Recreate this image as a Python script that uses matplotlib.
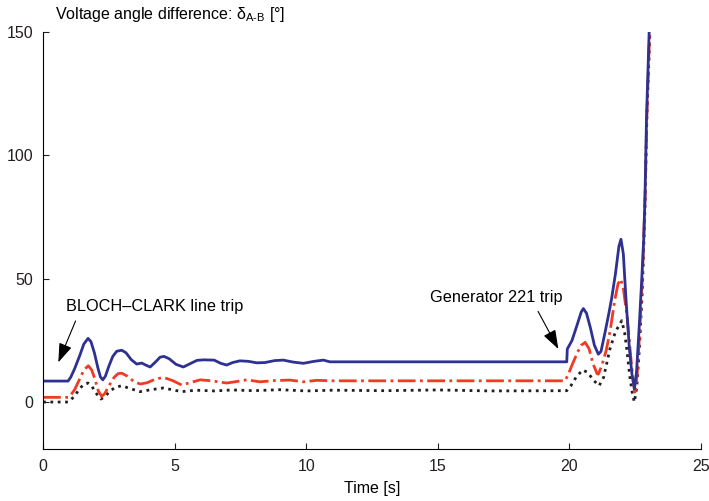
import matplotlib.pyplot as plt
import numpy as np

plt.rcParams['font.family'] = ['Liberation Sans', 'DejaVu Sans']
plt.rcParams['mathtext.fontset'] = 'custom'
plt.rcParams['mathtext.rm'] = 'Liberation Sans'
plt.rcParams['mathtext.it'] = 'Liberation Sans:italic'

# blue, solid line
t_blue = [0, 0.95, 1.05, 1.2, 1.4, 1.55, 1.71, 1.82, 1.95, 2.08, 2.18, 2.27,
          2.37, 2.5, 2.65, 2.8, 2.99, 3.15, 3.35, 3.56, 3.75, 3.9, 4.07, 4.25,
          4.45, 4.6, 4.8, 5.05, 5.33, 5.6, 5.85, 6.1, 6.5, 6.75, 6.98, 7.2,
          7.48, 7.8, 8.12, 8.43, 8.8, 9.13, 9.5, 9.89, 10.3, 10.65, 10.9,
          19.9, 19.92, 20.1, 20.3, 20.45, 20.53, 20.65, 20.8, 20.95, 21.1,
          21.2, 21.35, 21.5, 21.6, 21.75, 21.88, 21.96, 22.05, 22.15, 22.28,
          22.38, 22.47, 22.55, 22.65, 22.75, 22.82, 22.87, 22.93, 23.03]
y_blue = [8.5, 8.5, 10, 13.5, 19, 23.5, 25.8, 24.5, 20, 14, 10.2, 9.0, 10.5,
          14.5, 18.5, 20.6, 21, 20, 17.2, 15.4, 15.8, 15, 14.2, 16, 18.2, 18.5,
          17.5, 15.3, 14.2, 15.6, 16.9, 17.1, 17, 15.7, 15.0, 16, 16.7, 16.5,
          15.9, 16, 16.8, 17, 16.2, 15.7, 16.5, 17, 16.3,
          16.3, 21.5, 25, 31.5, 36.5, 37.9, 36, 30, 23, 19.4,
          20.5, 28, 36, 41.7, 52, 63, 66, 60, 41.7, 21.5,
          11, 5.3, 12, 30, 50, 65, 82, 115, 150]

# red, dash-dot line
t_red = [0, 0.95, 1.05, 1.2, 1.4, 1.55, 1.72, 1.85, 1.98, 2.1, 2.23, 2.35,
         2.5, 2.7, 2.85, 2.99, 3.2, 3.45, 3.69, 3.95, 4.25, 4.57, 4.9, 5.27,
         5.6, 5.97, 6.4, 6.98, 7.35, 7.74, 8.24, 8.8, 9.38, 9.9, 10.4, 11.0,
         19.83, 19.95, 20.1, 20.3, 20.45, 20.6, 20.75, 20.9, 21.05, 21.1,
         21.23, 21.4, 21.55, 21.73, 21.85, 21.95, 22.05, 22.2, 22.36, 22.49,
         22.58, 22.68, 22.78, 22.88, 22.95, 23.05]
y_red = [1.9, 1.9, 2.8, 5, 9.5, 13, 14.7, 13, 9, 4.5, 2.3, 3.5, 6.5, 10,
         11.5, 11.7, 10.5, 8.3, 7.3, 7.8, 9.2, 10, 8.8, 6.9, 7.9, 9, 8.6, 7.7,
         8.3, 9, 8.2, 8.7, 8.9, 8.2, 8.8, 8.6,
         8.6, 11, 15, 20, 23, 24.2, 21.5, 15.5, 11.5, 11.3,
         14.7, 21, 29, 41.7, 48, 49.8, 46, 34, 15, 3.2,
         12, 30, 52, 85, 118, 150]

# black, dotted line
t_black = [0, 0.95, 1.05, 1.2, 1.4, 1.55, 1.71, 1.85, 2.0, 2.2, 2.35, 2.55,
           2.75, 2.99, 3.3, 3.69, 4.1, 4.57, 4.9, 5.27, 5.8, 6.5, 7.2, 8.0,
           9.0, 10.0, 11.0, 13.0, 15.0, 17.0, 19.9, 20.05, 20.25, 20.5, 20.7,
           20.9, 21.13, 21.3, 21.54, 21.75, 21.99, 22.1, 22.18, 22.3, 22.4,
           22.47, 22.56, 22.66, 22.77, 22.87, 22.94, 23.06]
y_black = [0, 0, 0.8, 2.5, 5.5, 7.2, 7.7, 6.5, 3.8, 1.2, 2.2, 4.5, 6, 6.6,
           5.5, 4.2, 5, 5.7, 5, 4.2, 4.8, 4.5, 4.9, 4.6, 5, 4.5, 4.8, 4.6,
           4.9, 4.5, 4.6, 6.5, 10, 13, 12, 9, 6.6, 10, 21.5, 28.5, 33, 28,
           21.5, 10, 3, 0, 6, 22, 45, 78, 115, 150]

fig = plt.figure(figsize=(7.09, 5.01), dpi=100)
ax = fig.add_axes([0.0607, 0.104, 0.928, 0.832])

ax.plot(t_black, y_black, color='#231f20', linestyle=':', linewidth=2.0)
ax.plot(t_red, y_red, color='#ef3b24', linestyle='-.', linewidth=2.0)
ax.plot(t_blue, y_blue, color='#2e3192', linestyle='-', linewidth=2.0)

ax.set_xlim(0, 25)
ax.set_ylim(-19, 150)
ax.set_xticks([0, 5, 10, 15, 20, 25])
ax.set_yticks([0, 50, 100, 150])
ax.spines['right'].set_color('none')
ax.spines['top'].set_color('none')
ax.spines['left'].set_linewidth(0.8)
ax.spines['bottom'].set_linewidth(0.8)
ax.tick_params(direction='in', length=4, width=0.8, labelsize=11.5,
               colors='#231f20', pad=7)
ax.set_xlabel('Time [s]', fontsize=11.5, labelpad=5)

# upright delta like the original, subscript via mathtext
fig.text(0.0776, 0.972, r'Voltage angle difference: δ$_{\text{A-B}}$ [°]',
         fontsize=11.5, va='center', ha='left')

ax.annotate('BLOCH\u2013CLARK line trip', xy=(0.58, 16.1), xytext=(0.87, 38.6),
            fontsize=11.7, va='center', ha='left',
            arrowprops=dict(arrowstyle='-|>,head_length=1.0,head_width=0.35',
                            color='black', lw=0.8,
                            relpos=(0.07, 0.0), shrinkA=3, shrinkB=0))
ax.annotate('Generator 221 trip', xy=(19.58, 21.5), xytext=(14.7, 42.4),
            fontsize=11.7, va='center', ha='left',
            arrowprops=dict(arrowstyle='-|>,head_length=1.0,head_width=0.35',
                            color='black', lw=0.8,
                            relpos=(0.79, 0.0), shrinkA=3, shrinkB=0))

plt.savefig('out.png', dpi=100)
